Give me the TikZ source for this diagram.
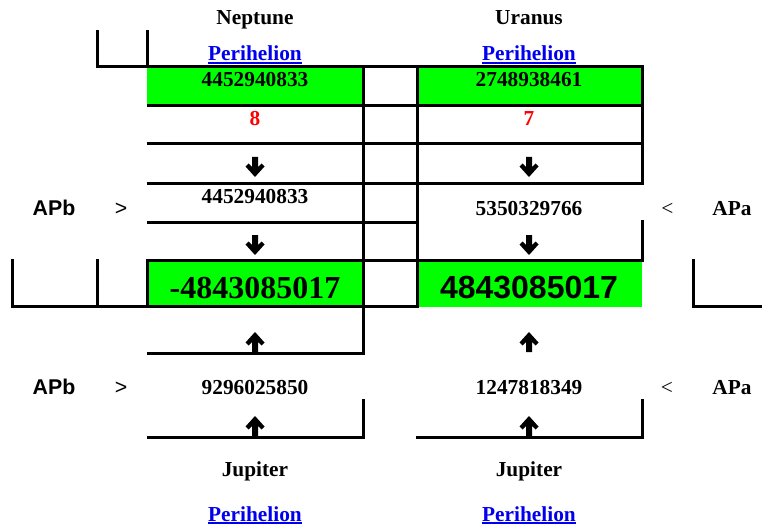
\documentclass[tikz,border=0pt]{standalone}
\usepackage{fontspec}
\setmainfont{Liberation Serif}
\newfontfamily\arialfont{Liberation Sans}
\definecolor{lgreen}{RGB}{0,255,0}
\definecolor{lblue}{RGB}{0,0,238}
\definecolor{lred}{RGB}{255,0,0}
\tikzset{
  rule/.style={line width=2.25pt, line cap=rect},
  cellfill/.style={fill=lgreen},
  txt/.style={anchor=base, inner sep=0pt, font=\fontsize{16}{19}\selectfont\bfseries},
  txtreg/.style={anchor=base, inner sep=0pt, font=\fontsize{16}{19}\selectfont},
  sanstxt/.style={anchor=base, inner sep=0pt, font=\fontsize{16}{19}\selectfont\arialfont\bfseries},
  sansreg/.style={anchor=base, inner sep=0pt, font=\fontsize{16}{19}\selectfont\arialfont},
  bigtxt/.style={anchor=base, inner sep=0pt, font=\fontsize{24}{28}\selectfont\bfseries},
  bigsans/.style={anchor=base, inner sep=0pt, font=\fontsize{24}{28}\selectfont\arialfont\bfseries},
  linktxt/.style={txt, text=lblue},
  uline/.style={draw=lblue, line width=1.5pt},
  arrdn/.pic={\fill (-3,-10) -- (3,-10) -- (3,0) -- (6.5,-3.5) -- (9.5,-0.5) -- (0,10) -- (-9.5,-0.5) -- (-6.5,-3.5) -- (-3,0) -- cycle;},
  arrup/.pic={\fill (-3,10) -- (3,10) -- (3,0) -- (6.5,3.5) -- (9.5,0.5) -- (0,-10) -- (-9.5,0.5) -- (-6.5,3.5) -- (-3,0) -- cycle;}
}
\begin{document}
\begin{tikzpicture}[x=0.75pt, y=-0.75pt]
\useasboundingbox (0,0) rectangle (762,527);
% green cells
\fill[cellfill] (147,66.3) rectangle (363.5,105.5);
\fill[cellfill] (417,66.3) rectangle (642,105.5);
\fill[cellfill] (147.5,260.5) rectangle (363.5,306.5);
\fill[cellfill] (417,260.5) rectangle (642,306.5);
% rules
\draw[rule] (97,31.5) -- (97,66.3);
\draw[rule] (147.5,31.5) -- (147.5,66.3);
\draw[rule] (97,66.3) -- (642,66.3);
\draw[rule] (363.5,66.3) -- (363.5,353);
\draw[rule] (417,66.3) -- (417,306.5);
\draw[rule] (642,66.3) -- (642,183.3);
\draw[rule] (642,221.5) -- (642,260.5);
\draw[rule] (148,105.5) -- (642,105.5);
\draw[rule] (148,144) -- (642,144);
\draw[rule] (148,183.3) -- (642,183.3);
\draw[rule] (148,222) -- (417,222);
\draw[rule] (147.5,260.5) -- (642,260.5);
\draw[rule] (147.5,260.5) -- (147.5,306.5);
\draw[rule] (12.5,260.5) -- (12.5,306.5);
\draw[rule] (97,260.5) -- (97,306.5);
\draw[rule] (12.5,306.5) -- (417,306.5);
\draw[rule] (693.5,260.5) -- (693.5,306.5);
\draw[rule] (693.5,306.5) -- (762,306.5);
\draw[rule] (148,353) -- (363.5,353);
\draw[rule] (363.5,400.5) -- (363.5,437);
\draw[rule] (148,437) -- (363.5,437);
\draw[rule] (642,400.5) -- (642,437);
\draw[rule] (417.5,437) -- (642,437);
% headers
\node[txt] (nep) at (255,25) {Neptune};
\node[txt] (ura) at (529,25) {Uranus};
\node[linktxt] (p1) at (255,60.5) {Perihelion};
\node[linktxt] (p2) at (529,60.5) {Perihelion};
\draw[uline] ([yshift=-1.8pt]p1.base west) -- ([yshift=-1.8pt]p1.base east);
\draw[uline] ([yshift=-1.8pt]p2.base west) -- ([yshift=-1.8pt]p2.base east);
% top values
\node[txt] (n1) at (255,87) {4452940833};
\node[txt] (u1) at (529,87) {2748938461};
\node[txt, text=lred] (n2) at (255,126) {8};
\node[txt, text=lred] (u2) at (529,126) {7};
\pic at (255,167) {arrdn};
\pic at (529,167) {arrdn};
\node[txt] (n3) at (255,204) {4452940833};
\node[txt] (u3) at (529,215) {5350329766};
\node[sanstxt] (apb1) at (54,215) {APb};
\node[sansreg] (gt1) at (121,215) {>};
\node[txtreg] (lt1) at (667.5,215) {<};
\node[txt] (apa1) at (732,215) {APa};
\pic at (255,245) {arrdn};
\pic at (529,245) {arrdn};
\node[bigtxt] (n4) at (255,298) {-4843085017};
\node[bigsans] (u4) at (529,298) {4843085017};
% lower part
\pic at (255,342) {arrup};
\pic at (529,342) {arrup};
\node[sanstxt] (apb2) at (54,394) {APb};
\node[sansreg] (gt2) at (121,394) {>};
\node[txt] (j1) at (255,394) {9296025850};
\node[txt] (j2) at (529,394) {1247818349};
\node[txtreg] (lt2) at (667,394) {<};
\node[txt] (apa2) at (732,394) {APa};
\pic at (255,426) {arrup};
\pic at (529,426) {arrup};
\node[txt] (jup1) at (255,476) {Jupiter};
\node[txt] (jup2) at (529,476) {Jupiter};
\node[linktxt] (p3) at (255,521) {Perihelion};
\node[linktxt] (p4) at (529,521) {Perihelion};
\draw[uline] ([yshift=-1.8pt]p3.base west) -- ([yshift=-1.8pt]p3.base east);
\draw[uline] ([yshift=-1.8pt]p4.base west) -- ([yshift=-1.8pt]p4.base east);
\end{tikzpicture}
\end{document}
